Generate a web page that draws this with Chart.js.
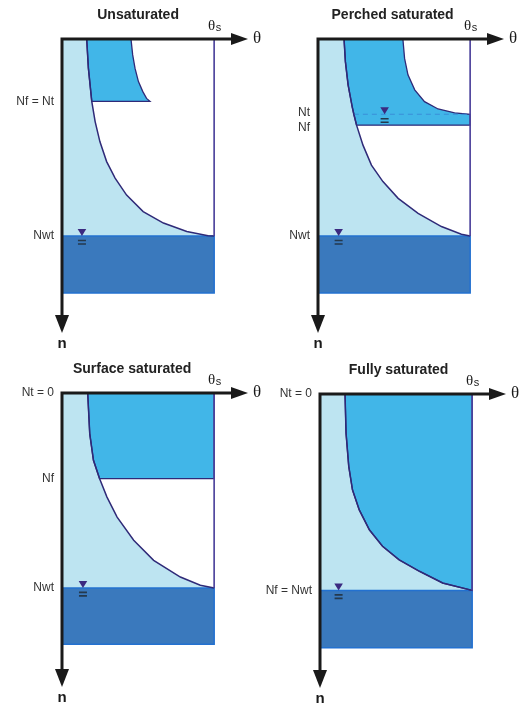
<!DOCTYPE html>
<html>
<head>
<meta charset="utf-8">
<script src="https://cdn.jsdelivr.net/npm/chart.js@4.4.0/dist/chart.umd.min.js"></script>
<style>
  body { margin: 0; background: #fff; width: 519px; height: 706px; position: relative; overflow: hidden; }
  canvas { position: absolute; }
</style>
</head>
<body>
<canvas id="unsat" width="275" height="356" style="left:0;top:0"></canvas>
<canvas id="perched" width="269" height="356" style="left:250px;top:0"></canvas>
<canvas id="surface" width="275" height="356" style="left:0;top:350px"></canvas>
<canvas id="full" width="269" height="356" style="left:250px;top:350px"></canvas>
<script>
const THETA_S = 0.45;    // saturated water content
const THETA_END = 0.55;  // tip of the theta arrow
const N_END = 100;       // tip of the depth arrow

// Unsaturated
const unsatN = [0, 9.9, 21.2, 28.1, 34.9, 41.7, 47.3, 53.1, 58.7, 62.6, 65.5, 66.9, 67.0];
const unsatTheta = [0.073, 0.078, 0.088, 0.098, 0.112, 0.132, 0.157, 0.191, 0.240, 0.300, 0.369, 0.432, 0.45];
const unsatFrontN = [0, 5.4, 10.0, 14.5, 17.9, 20.2, 21.2];
const unsatFrontTheta = [0.204, 0.209, 0.216, 0.226, 0.239, 0.250, 0.260];
const unsatLevels = [21.2, 67.0];
const unsatLabels = ['Nf = Nt', 'Nwt'];
const unsatBottom = 86.4;

// Perched saturated
const perchN = [0, 7.7, 15.6, 23.0, 25.6, 29.3, 36.1, 42.9, 48.5, 54.2, 59.3, 63.8, 66.4, 67.0];
const perchTheta = [0.077, 0.081, 0.089, 0.101, 0.106, 0.114, 0.133, 0.158, 0.192, 0.237, 0.296, 0.365, 0.424, 0.45];
const perchFrontN = [0, 6.6, 12.2, 17.3, 21.3, 23.8, 25.1, 25.6];
const perchFrontTheta = [0.251, 0.256, 0.266, 0.286, 0.315, 0.355, 0.404, 0.45];
const perchLevels = [25.6, 29.3, 67.0];
const perchLabels = ['Nt', 'Nf', 'Nwt'];
const perchBottom = 86.4;

// Surface saturated
const surfN = [0, 13.8, 22.9, 29.1, 35.4, 42.2, 50.1, 56.9, 62.6, 65.4, 66.3];
const surfTheta = [0.076, 0.082, 0.093, 0.111, 0.133, 0.163, 0.212, 0.271, 0.350, 0.409, 0.45];
const surfLevels = [0, 29.1, 66.3];
const surfLabels = ['Nt = 0', 'Nf', 'Nwt'];
const surfBottom = 85.5;

// Fully saturated
const fullN = [0, 13.3, 24.6, 32.6, 39.4, 46.2, 51.8, 56.4, 60.3, 64.3, 66.8];
const fullTheta = [0.074, 0.077, 0.085, 0.096, 0.116, 0.146, 0.185, 0.234, 0.294, 0.363, 0.45];
const fullLevels = [0, 66.8];
const fullLabels = ['Nt = 0', 'Nf = Nwt'];
const fullBottom = 86.3;

const LIGHT = '#bde4f1';
const MID = '#41b6e8';
const DARK = '#3a79bd';
const DARK_EDGE = '#2371d0';
const NAVY = '#2f2a78';

function pts(thetas, depths) {
    return thetas.map((t, i) => ({ x: t, y: depths[i] }));
}

const decor = {
    id: 'decor',
    afterDraw(chart, args, opts) {
        const { ctx, scales: { x, y } } = chart;
        const x0 = x.getPixelForValue(0), y0 = y.getPixelForValue(0);
        const xEnd = x.getPixelForValue(THETA_END), yEnd = y.getPixelForValue(N_END);
        const xs = x.getPixelForValue(THETA_S);
        ctx.save();

        // water table markers
        opts.tables.forEach(m => {
            const px = x.getPixelForValue(m.theta), py = y.getPixelForValue(m.n);
            ctx.fillStyle = '#3b2a80';
            ctx.beginPath();
            ctx.moveTo(px, py);
            ctx.lineTo(px - 4.3, py - 7);
            ctx.lineTo(px + 4.3, py - 7);
            ctx.closePath();
            ctx.fill();
            ctx.strokeStyle = '#24394d';
            ctx.lineWidth = 1.6;
            ctx.beginPath();
            ctx.moveTo(px - 4, py + 4.5); ctx.lineTo(px + 4, py + 4.5);
            ctx.moveTo(px - 4, py + 8); ctx.lineTo(px + 4, py + 8);
            ctx.stroke();
        });

        // axes with arrowheads
        ctx.strokeStyle = '#1a1a1a';
        ctx.fillStyle = '#1a1a1a';
        ctx.lineWidth = 3;
        ctx.beginPath();
        ctx.moveTo(x0 - 1.5, y0); ctx.lineTo(xEnd - 14, y0);
        ctx.moveTo(x0, y0); ctx.lineTo(x0, yEnd - 14);
        ctx.stroke();
        ctx.beginPath();
        ctx.moveTo(xEnd, y0); ctx.lineTo(xEnd - 17, y0 - 6); ctx.lineTo(xEnd - 17, y0 + 6);
        ctx.closePath();
        ctx.fill();
        ctx.beginPath();
        ctx.moveTo(x0, yEnd); ctx.lineTo(x0 - 7, yEnd - 18); ctx.lineTo(x0 + 7, yEnd - 18);
        ctx.closePath();
        ctx.fill();

        // axis names
        ctx.textBaseline = 'middle';
        ctx.textAlign = 'center';
        ctx.font = '17px "Liberation Serif", serif';
        ctx.fillText('θ', xEnd + 9, y0);
        ctx.font = 'bold 15px "Liberation Sans", Arial, sans-serif';
        ctx.fillText('n', x0, yEnd + 11);

        // theta_s
        ctx.textBaseline = 'alphabetic';
        ctx.font = '15px "Liberation Serif", serif';
        ctx.fillText('θ', xs - 2.5, y0 - 9);
        ctx.textAlign = 'left';
        ctx.font = '11px "Liberation Sans", Arial, sans-serif';
        ctx.fillText('s', xs + 1.5, y0 - 8);

        // panel title
        ctx.textAlign = 'center';
        ctx.textBaseline = 'middle';
        ctx.fillStyle = '#222';
        ctx.font = 'bold 14px "Liberation Sans", Arial, sans-serif';
        ctx.fillText(opts.title, x.getPixelForValue(THETA_S / 2) + opts.titleShift, y0 - 24);
        ctx.restore();
    }
};

function drawPanel(id, p) {
    const curve = pts(p.theta, p.n);
    const upper = curve.filter(pt => pt.y <= p.nf);
    const wet = upper.concat(p.wetEdge, [upper[0]]);
    const light = [{ x: 0, y: 0 }].concat(curve, [{ x: 0, y: p.nwt }, { x: 0, y: 0 }]);
    const box = [
        { x: 0, y: p.nwt }, { x: THETA_S, y: p.nwt }, { x: THETA_S, y: p.bottom },
        { x: 0, y: p.bottom }, { x: 0, y: p.nwt }
    ];
    const edge = [{ x: THETA_S, y: 0 }, { x: THETA_S, y: p.nwt }];
    // tick positions for the level names; a nudge keeps close names apart
    const labelAt = p.levels.map((v, i) => v + (p.nudge ? p.nudge[i] : 0));

    const datasets = [
        { data: light, fill: 'shape', backgroundColor: LIGHT, borderWidth: 0, order: 6 },
        { data: box, fill: 'shape', backgroundColor: DARK, borderColor: DARK_EDGE, borderWidth: 1.5, order: 5 },
        { data: wet, fill: 'shape', backgroundColor: MID, borderColor: NAVY, borderWidth: 1.3, order: 4 },
        { data: curve, fill: false, borderColor: NAVY, borderWidth: 1.5, order: 2 },
        { data: edge, fill: false, borderColor: '#4d449c', borderWidth: 1, order: 1 }
    ];
    if (p.dashed) {
        datasets.push({ data: p.dashed, fill: false, borderColor: '#3a8fd8', borderWidth: 1.2, borderDash: [5, 4], order: 3 });
    }

    new Chart(document.getElementById(id), {
        type: 'line',
        data: { datasets: datasets },
        plugins: [decor],
        options: {
            responsive: false,
            animation: false,
            events: [],
            elements: { point: { radius: 0, hoverRadius: 0 }, line: { tension: 0 } },
            layout: { padding: { left: 0, top: p.oy, right: p.padRight, bottom: p.padBottom } },
            scales: {
                x: { type: 'linear', min: 0, max: THETA_END, display: false },
                y: {
                    type: 'linear', min: 0, max: N_END, reverse: true, position: 'left',
                    grid: { display: false, drawTicks: false }, border: { display: false },
                    afterFit: scale => { scale.width = p.ox; },
                    afterBuildTicks: scale => { scale.ticks = labelAt.map(v => ({ value: v })); },
                    ticks: {
                        autoSkip: false, padding: 8, color: '#333',
                        font: { family: '"Liberation Sans", Arial, sans-serif', size: 12 },
                        callback: (v, i) => p.labels[i]
                    }
                }
            },
            plugins: {
                legend: { display: false },
                tooltip: { enabled: false },
                decor: { title: p.title, titleShift: p.titleShift, tables: p.tables }
            }
        }
    });
}

drawPanel('unsat', {
    title: 'Unsaturated', titleShift: 0, ox: 62, oy: 39, padRight: 27, padBottom: 23,
    theta: unsatTheta, n: unsatN, nf: unsatLevels[0], nwt: unsatLevels[1], bottom: unsatBottom,
    levels: unsatLevels, labels: unsatLabels,
    wetEdge: pts(unsatFrontTheta, unsatFrontN).reverse(),
    tables: [{ theta: 0.059, n: unsatLevels[1] }]
});

const perchNt = perchLevels[0], perchNf = perchLevels[1];
drawPanel('perched', {
    title: 'Perched saturated', titleShift: -1.5, ox: 68, oy: 39, padRight: 15, padBottom: 23,
    theta: perchTheta, n: perchN, nf: perchNf, nwt: perchLevels[2], bottom: perchBottom,
    levels: perchLevels, labels: perchLabels, nudge: [-0.4, 0.7, 0],
    wetEdge: [{ x: THETA_S, y: perchNf }, { x: THETA_S, y: perchNt }].concat(pts(perchFrontTheta, perchFrontN).reverse()),
    dashed: [{ x: perchTheta[perchN.indexOf(perchNt)], y: perchNt }, { x: THETA_S, y: perchNt }],
    tables: [{ theta: 0.197, n: perchNt }, { theta: 0.061, n: perchLevels[2] }]
});

drawPanel('surface', {
    title: 'Surface saturated', titleShift: -6, ox: 62, oy: 43, padRight: 27, padBottom: 19,
    theta: surfTheta, n: surfN, nf: surfLevels[1], nwt: surfLevels[2], bottom: surfBottom,
    levels: surfLevels, labels: surfLabels,
    wetEdge: [{ x: THETA_S, y: surfLevels[1] }, { x: THETA_S, y: 0 }],
    tables: [{ theta: 0.062, n: surfLevels[2] }]
});

drawPanel('full', {
    title: 'Fully saturated', titleShift: 2.5, ox: 70, oy: 44, padRight: 13, padBottom: 18,
    theta: fullTheta, n: fullN, nf: fullLevels[1], nwt: fullLevels[1], bottom: fullBottom,
    levels: fullLevels, labels: fullLabels,
    wetEdge: [{ x: THETA_S, y: 0 }],
    tables: [{ theta: 0.055, n: fullLevels[1] }]
});
</script>
</body>
</html>
